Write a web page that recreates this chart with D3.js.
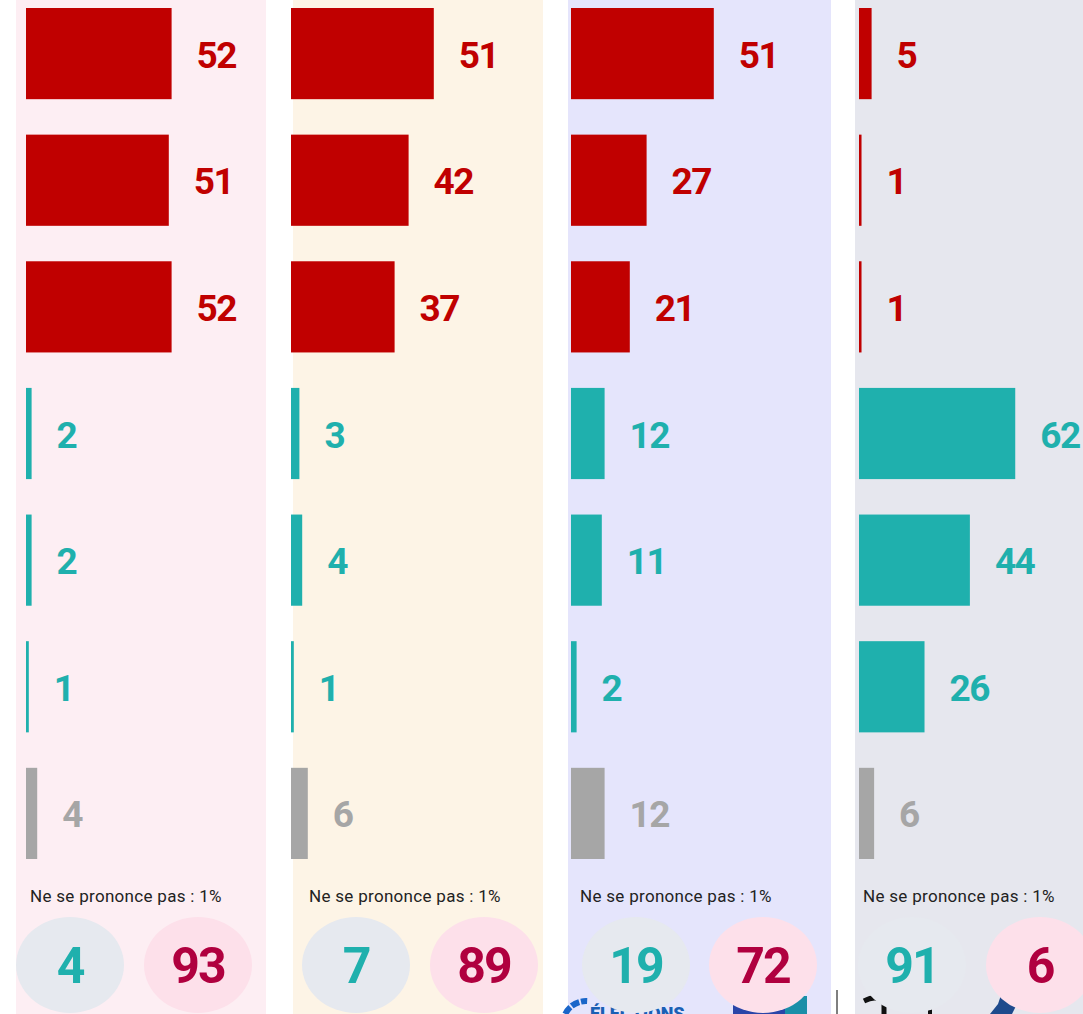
<!DOCTYPE html>
<html>
<head>
<meta charset="utf-8">
<script src="https://cdn.jsdelivr.net/npm/d3@7"></script>
<style>
  body { margin: 0; background: #fff; }
  svg { display: block; }
  .val { font-family: Roboto, sans-serif; font-weight: 700; }
  .nsp { font-family: Roboto, sans-serif; font-size: 17px; fill: #222; letter-spacing: 0.3px; }
</style>
</head>
<body>
<div id="chart"></div>
<script>
// data
var panels = ['A', 'B', 'C', 'D'];
var redValues = [[52, 51, 52], [51, 42, 37], [51, 27, 21], [5, 1, 1]];
var tealValues = [[2, 2, 1], [3, 4, 1], [12, 11, 2], [62, 44, 26]];
var greyValues = [4, 6, 12, 6];
var noOpinion = ['Ne se prononce pas : 1%', 'Ne se prononce pas : 1%', 'Ne se prononce pas : 1%', 'Ne se prononce pas : 1%'];
var tealTotals = [4, 7, 19, 91];
var redTotals = [93, 89, 72, 6];

// layout of each panel (px)
var panelBg = [[16, 266], [293, 543], [568, 831], [855, 1090]];
var barStart = [26, 291, 571, 859];
var pxPerHundred = [280, 280, 280, 252];
var textX = [30, 309, 580, 863];
var bubbleX = [[70, 198], [356, 484], [636, 763], [912, 1040]];

var width = 1083, height = 1014;
var RED = '#c00000', TEAL = '#1fb0ad', GREY = '#a6a6a6';
var bgColors = ['#fdeef3', '#fdf4e6', '#e5e5fc', '#e6e7ee'];

var svg = d3.select('#chart').append('svg')
    .attr('width', width)
    .attr('height', height);

var y = d3.scaleBand()
    .domain(d3.range(7))
    .range([8, 859])
    .paddingInner(0.28)
    .paddingOuter(0);

panels.forEach(function (p, i) {
    var rows = redValues[i].map(function (v) { return { v: v, c: RED }; })
        .concat(tealValues[i].map(function (v) { return { v: v, c: TEAL }; }))
        .concat([{ v: greyValues[i], c: GREY }]);

    var x = d3.scaleLinear().domain([0, 100]).range([barStart[i], barStart[i] + pxPerHundred[i]]);

    var g = svg.append('g').attr('class', 'panel-' + p);

    g.append('rect')
        .attr('x', panelBg[i][0])
        .attr('y', 0)
        .attr('width', panelBg[i][1] - panelBg[i][0])
        .attr('height', height)
        .attr('fill', bgColors[i]);

    g.selectAll('rect.bar')
        .data(rows)
        .enter()
        .append('rect')
        .attr('class', 'bar')
        .attr('x', x(0))
        .attr('y', function (d, k) { return y(k); })
        .attr('width', function (d) { return Math.max(2, x(d.v) - x(0)); })
        .attr('height', y.bandwidth())
        .attr('fill', function (d) { return d.c; });

    g.selectAll('text.val')
        .data(rows)
        .enter()
        .append('text')
        .attr('class', 'val')
        .attr('x', function (d) { return x(d.v) + 25; })
        .attr('y', function (d, k) { return y(k) + y.bandwidth() / 2 + 14; })
        .attr('font-size', 37)
        .attr('letter-spacing', -1.5)
        .attr('fill', function (d) { return d.c; })
        .text(function (d) { return d.v; });

    g.append('text')
        .attr('class', 'nsp')
        .attr('x', textX[i])
        .attr('y', 902)
        .text(noOpinion[i]);
});

// cut-off logos along the bottom edge
var logos = svg.append('g');
var arc = d3.arc().innerRadius(20).outerRadius(26);
[[-1.55, -1.2, '#1a66c9'], [-1.12, -0.75, '#1a66c9'], [-0.67, -0.3, '#1a66c9'], [-0.22, 0.05, '#1a66c9'], [-1.95, -1.65, '#e03030']]
    .forEach(function (s) {
        logos.append('path')
            .attr('transform', 'translate(586,1024)')
            .attr('d', arc({ startAngle: s[0], endAngle: s[1] }))
            .attr('fill', s[2]);
    });
logos.append('text')
    .attr('x', 590).attr('y', 1020)
    .attr('font-family', 'Roboto, sans-serif').attr('font-weight', 900)
    .attr('font-size', 18).attr('fill', '#1a5fb4')
    .text('ÉLECTIONS');
logos.append('rect').attr('x', 733).attr('y', 996).attr('width', 52).attr('height', 20).attr('fill', '#2a45a8');
logos.append('rect').attr('x', 785).attr('y', 996).attr('width', 22).attr('height', 20).attr('fill', '#1a8fa8');
logos.append('line').attr('x1', 837).attr('x2', 837).attr('y1', 990).attr('y2', 1014)
    .attr('stroke', '#555').attr('stroke-width', 1.5);
logos.append('path')
    .attr('d', 'M864,1001 Q878,994 884,1003 L884,1014')
    .attr('fill', 'none').attr('stroke', '#111').attr('stroke-width', 5);
logos.append('rect').attr('x', 928).attr('y', 1009).attr('width', 4).attr('height', 5).attr('fill', '#111');
logos.append('path')
    .attr('d', 'M990,1014 L998,1004 L1001,995 L1008,1003 L1016,1006 L1012,1014 Z')
    .attr('fill', '#1e4a8c');

// totals in bubbles
panels.forEach(function (p, i) {
    var totals = [{ v: tealTotals[i], c: TEAL, bg: '#e6e9ef' }, { v: redTotals[i], c: '#b0003f', bg: '#fde0ea' }];
    var b = svg.append('g');
    b.selectAll('ellipse')
        .data(totals)
        .enter()
        .append('ellipse')
        .attr('cx', function (d, k) { return bubbleX[i][k]; })
        .attr('cy', 965)
        .attr('rx', 54)
        .attr('ry', 48)
        .attr('fill', function (d) { return d.bg; });
    b.selectAll('text')
        .data(totals)
        .enter()
        .append('text')
        .attr('class', 'val')
        .attr('x', function (d, k) { return bubbleX[i][k]; })
        .attr('y', 983)
        .attr('text-anchor', 'middle')
        .attr('font-size', 50)
        .attr('letter-spacing', -2)
        .attr('fill', function (d) { return d.c; })
        .text(function (d) { return d.v; });
});
</script>
</body>
</html>
